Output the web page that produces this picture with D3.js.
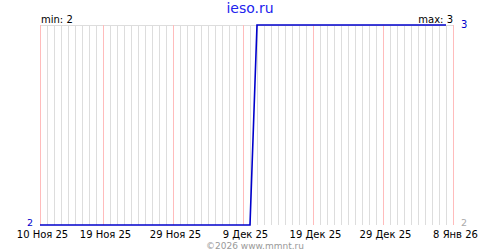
<!DOCTYPE html>
<html><head><meta charset="utf-8">
<script src="https://cdn.jsdelivr.net/npm/d3@7"></script>
<style>body{margin:0;background:#fff}svg{display:block}text{font-family:"DejaVu Sans",sans-serif}</style>
</head><body><svg id="c" width="500" height="250"></svg>
<script>
const title = "ieso.ru";
const startDate = "2025-11-10";
const endDate = "2026-01-08";
const values = [2,2,2,2,2,2,2,2,2,2, 2,2,2,2,2,2,2,2,2,2, 2,2,2,2,2,2,2,2,2,2, 2,
                3,3,3,3,3,3,3,3,3, 3,3,3,3,3,3,3,3,3,3, 3,3,3,3,3,3,3,3,3];
const tickDates = ["2025-11-10","2025-11-19","2025-11-29","2025-12-09","2025-12-19","2025-12-29","2026-01-08"];
const tickLabels = ["10 Ноя 25","19 Ноя 25","29 Ноя 25","9 Дек 25","19 Дек 25","29 Дек 25","8 Янв 26"];
const minLabel = "min: 2", maxLabel = "max: 3";
const yMin = 2, yMax = 3;
const credit = "©2026 www.mmnt.ru";

const parse = d3.utcParse("%Y-%m-%d");
const days = d3.utcDay.range(parse(startDate), d3.utcDay.offset(parse(endDate), 1));
const data = days.map((d, i) => ({date: d, value: values[i]}));

const svg = d3.select("#c");
const x = d3.scaleUtc().domain([parse(startDate), parse(endDate)]).range([40, 453]);
const y = d3.scaleLinear().domain([yMin, yMax]).range([225, 25]);

// daily grid
svg.append("g").selectAll("line").data(days).join("line")
  .attr("x1", d => Math.round(x(d)) + 0.5).attr("x2", d => Math.round(x(d)) + 0.5)
  .attr("y1", 25).attr("y2", 225).attr("stroke", "#dddddd").attr("stroke-width", 1);
// top border
svg.append("line").attr("x1", 40).attr("x2", 454).attr("y1", 25.5).attr("y2", 25.5).attr("stroke", "#dddddd");
// tick (red) grid
const ticks = tickDates.map(parse);
svg.append("g").selectAll("line").data(ticks).join("line")
  .attr("x1", d => Math.round(x(d)) + 0.5).attr("x2", d => Math.round(x(d)) + 0.5)
  .attr("y1", 25).attr("y2", 225).attr("stroke", "#ffbcbc").attr("stroke-width", 1);

// x axis labels
const xAxis = d3.axisBottom(x).tickValues(ticks).tickFormat((d, i) => tickLabels[i]).tickSize(0).tickPadding(0);
const gx = svg.append("g").attr("transform", "translate(2,0)").call(xAxis);
gx.select(".domain").remove();
gx.selectAll("text").attr("y", 237.5).attr("dy", null).attr("font-size", "10px").attr("fill", "#000")
  .attr("font-family", "DejaVu Sans, sans-serif");

// data line
svg.append("path").datum(data)
  .attr("fill", "none").attr("stroke", "#0000cc").attr("stroke-width", 1.6)
  .attr("d", d3.line().x(d => x(d.date)).y(d => y(d.value)));

// labels
svg.append("text").attr("x", 250).attr("y", 13).attr("text-anchor", "middle")
  .attr("font-size", "14px").attr("fill", "#2222ee").text(title);
svg.append("text").attr("x", 41).attr("y", 23).attr("font-size", "10px").attr("fill", "#000").text(minLabel);
svg.append("text").attr("x", 453).attr("y", 23).attr("text-anchor", "end").attr("font-size", "10px").attr("fill", "#000").text(maxLabel);
svg.append("text").attr("x", 461).attr("y", y(yMax) + 3).attr("font-size", "10px").attr("fill", "#0000cc").text(String(yMax));
svg.append("text").attr("x", 33).attr("y", y(yMin) + 0.5).attr("text-anchor", "end").attr("font-size", "9.5px").attr("fill", "#0000cc").text(String(yMin));
svg.append("text").attr("x", 461).attr("y", y(yMin) + 0.5).attr("font-size", "9.5px").attr("fill", "#aaaaaa").text(String(yMin));
svg.append("text").attr("x", 255).attr("y", 248.5).attr("text-anchor", "middle").attr("font-size", "9px").attr("fill", "#999999").text(credit);
</script></body></html>
